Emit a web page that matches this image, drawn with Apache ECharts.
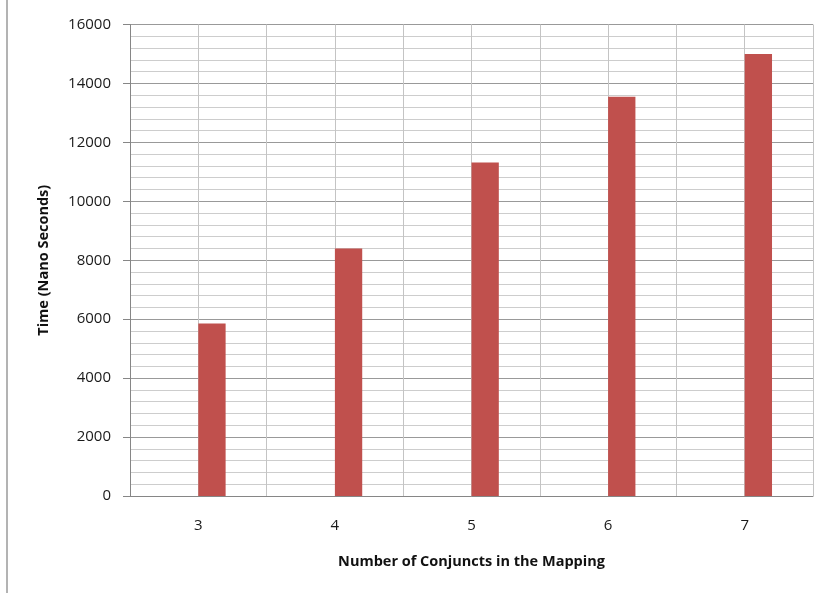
<!DOCTYPE html>
<html>
<head>
<meta charset="utf-8">
<script src="https://cdn.jsdelivr.net/npm/echarts@6/dist/echarts.min.js"></script>
<style>
  html, body { margin: 0; padding: 0; background: #ffffff; }
  #chart { width: 822px; height: 593px; }
</style>
</head>
<body>
<div id="chart"></div>
<script>
// Number of conjuncts in the mapping vs. measured time
const categories = ['3', '4', '5', '6', '7'];
const timeNs = [5850, 8400, 11320, 13550, 15000];
const yMin = 0;
const yMax = 16000;
const yStep = 2000;

const fontFamily = '"Open Sans", Lato, sans-serif';

const chart = echarts.init(document.getElementById('chart'), null, { renderer: 'canvas' });

chart.setOption({
  animation: false,
  backgroundColor: '#ffffff',
  graphic: [{
    type: 'rect',
    left: 6, top: 0,
    shape: { width: 2, height: 593 },
    style: { fill: '#b3b3b3' },
    silent: true
  }],
  grid: { left: 130, right: 9, top: 24.5, bottom: 97, containLabel: false },
  xAxis: [{
    type: 'category',
    data: categories,
    boundaryGap: true,
    axisLine: { show: true, lineStyle: { color: '#868686', width: 1 } },
    axisTick: { show: false },
    axisLabel: { margin: 22, fontSize: 15, color: '#1a1a1a', fontFamily: fontFamily },
    splitLine: { show: false },
    name: 'Number of Conjuncts in the Mapping',
    nameLocation: 'middle',
    nameGap: 58,
    nameTextStyle: { fontSize: 14.5, fontWeight: 'bold', color: '#111111', fontFamily: fontFamily }
  }, {
    // half-category grid lines (category boundaries and centres)
    type: 'value',
    min: 0, max: categories.length * 2, interval: 1,
    position: 'bottom',
    axisLine: { show: false },
    axisTick: { show: false },
    axisLabel: { show: false },
    splitLine: { show: true, lineStyle: { color: '#c4c4c4', width: 1 } }
  }],
  yAxis: {
    type: 'value',
    min: yMin, max: yMax, interval: yStep,
    axisLine: { show: true, lineStyle: { color: '#868686', width: 1 } },
    axisTick: { show: true, inside: false, length: 7, lineStyle: { color: '#868686' } },
    axisLabel: {
      margin: 19, fontSize: 15, color: '#1a1a1a', fontFamily: fontFamily,
      formatter: function (v) { return String(v); }
    },
    splitLine: { show: true, lineStyle: { color: '#999999', width: 1 } },
    minorTick: { show: false, splitNumber: 5 },
    minorSplitLine: { show: true, lineStyle: { color: '#cdcdcd', width: 1 } },
    name: 'Time (Nano Seconds)',
    nameLocation: 'middle',
    nameGap: 79,
    nameTextStyle: { fontSize: 14.5, fontWeight: 'bold', color: '#111111', fontFamily: fontFamily }
  },
  series: [{
    // empty first series of each cluster, so the bar sits right of the centre
    name: 'spacer',
    type: 'bar',
    xAxisIndex: 0,
    data: [],
    barGap: '0%',
    barCategoryGap: '60%'
  }, {
    name: 'Time',
    type: 'bar',
    xAxisIndex: 0,
    data: timeNs,
    barGap: '0%',
    barCategoryGap: '60%',
    itemStyle: { color: '#c0504d' }
  }]
});
</script>
</body>
</html>
